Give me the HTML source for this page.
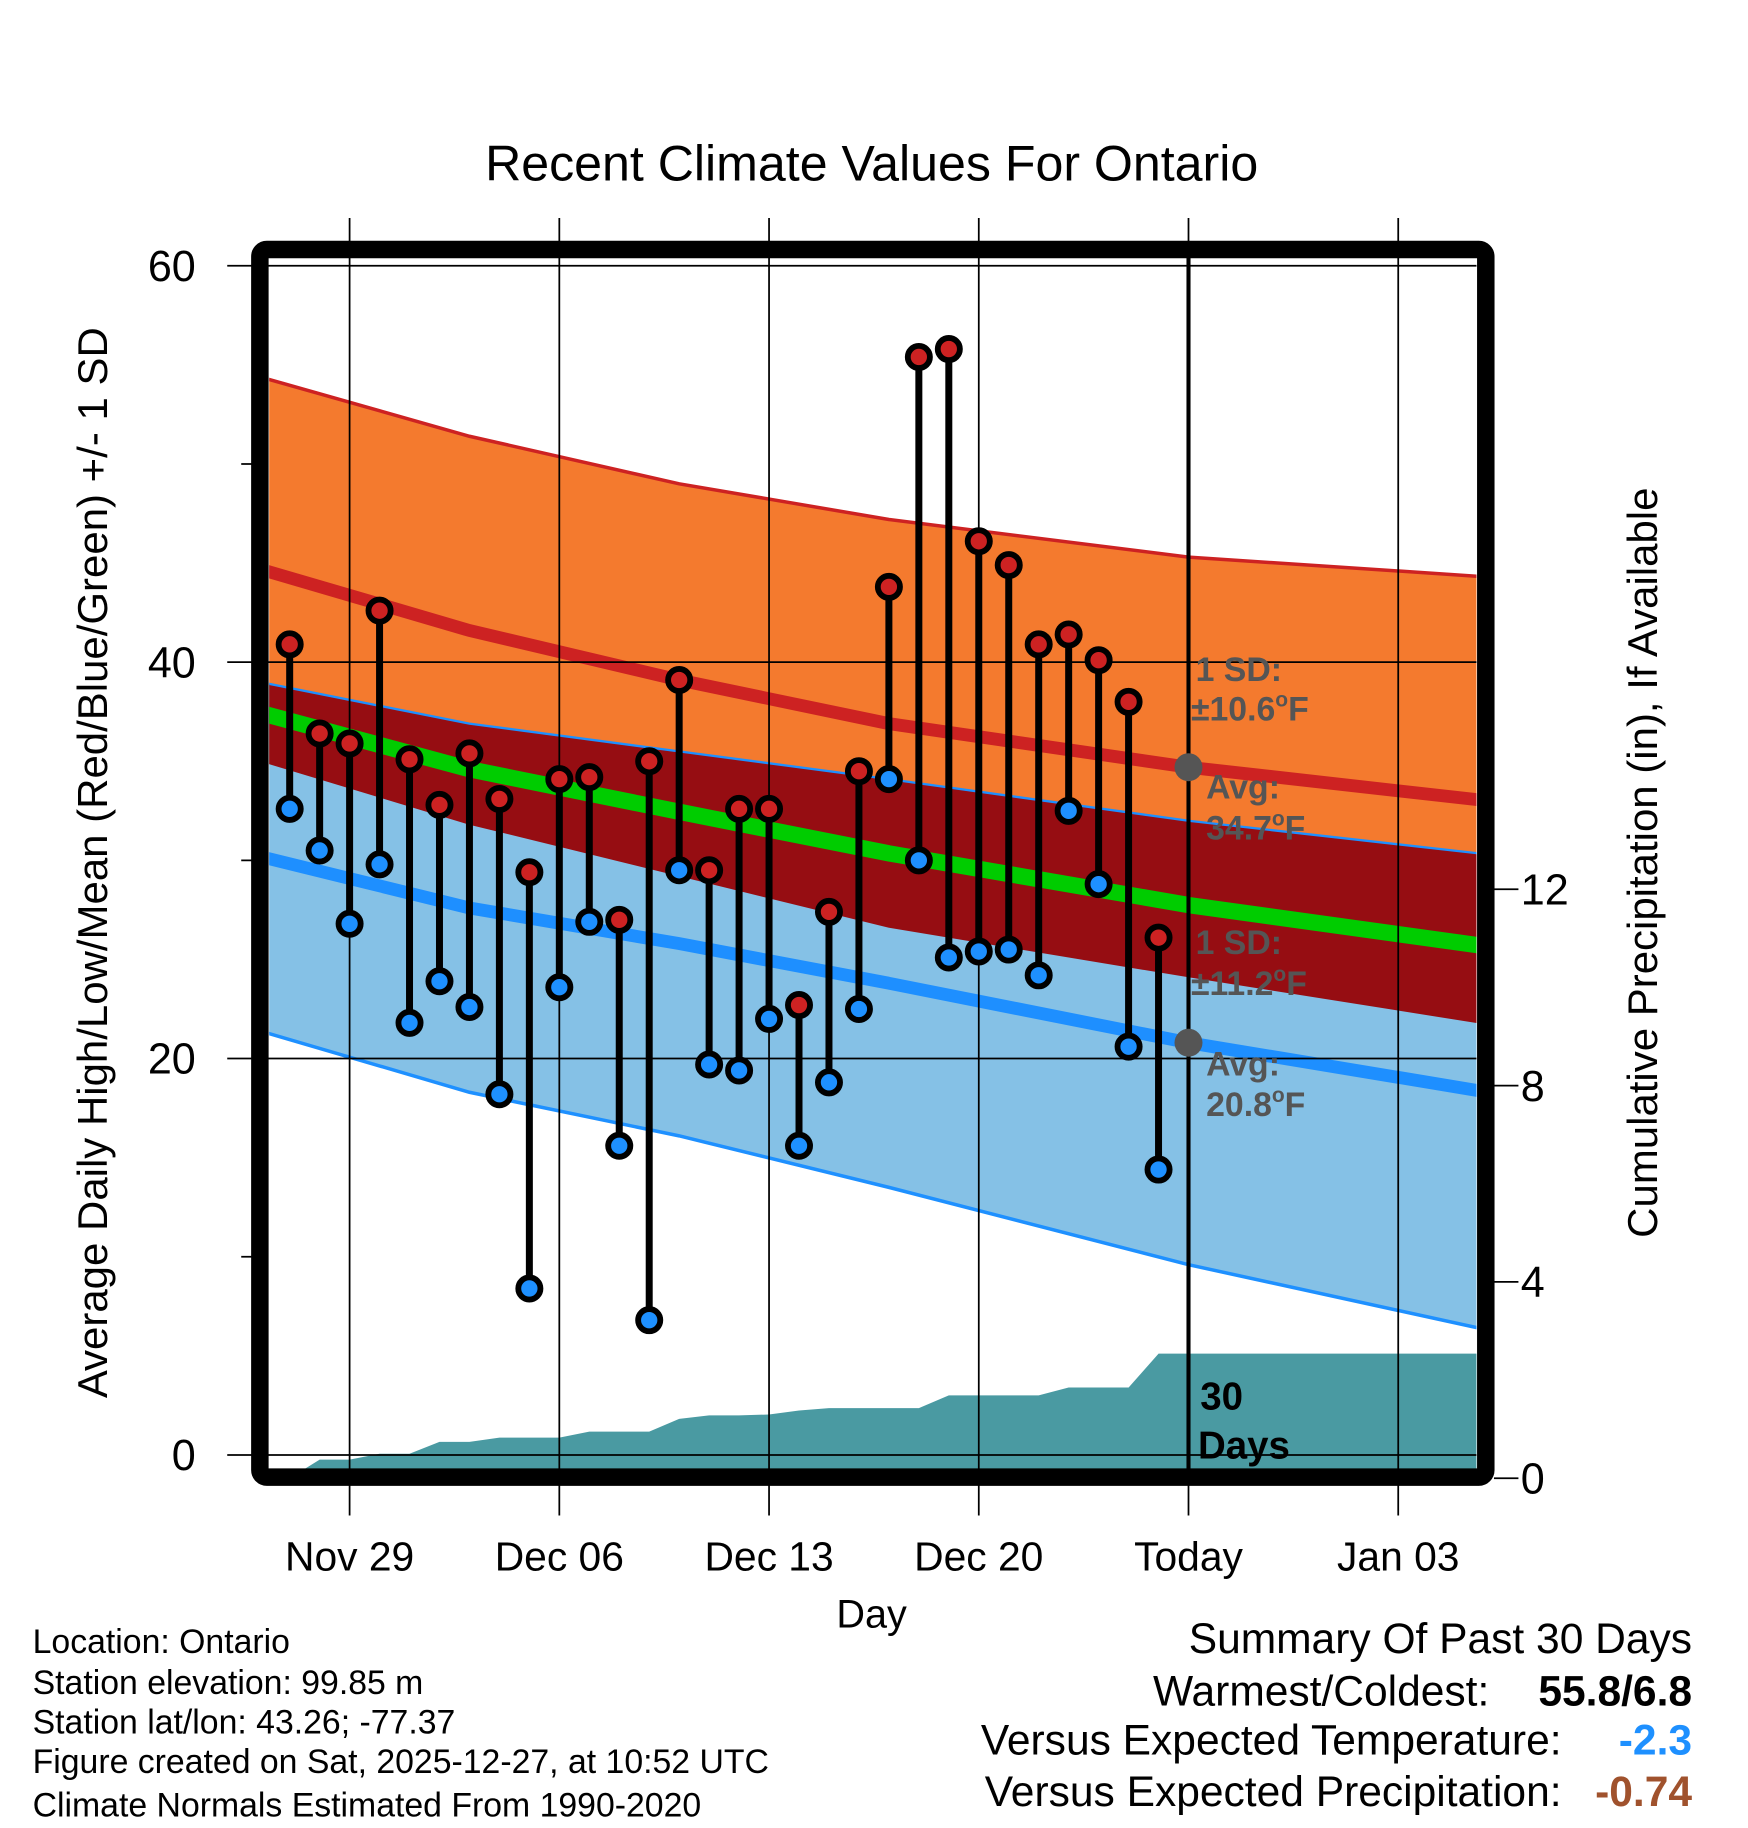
<!DOCTYPE html>
<html><head><meta charset="utf-8"><style>
html,body{margin:0;padding:0;background:#fff}
svg{display:block}
text{font-family:"Liberation Sans",Arial,sans-serif}
</style></head><body>
<svg id="chart" width="1748" height="1828" viewBox="0 0 1500 1568" preserveAspectRatio="none" xmlns="http://www.w3.org/2000/svg">
<defs><clipPath id="plotclip"><rect x="231" y="221" width="1036" height="1039"/></clipPath></defs>
<g id="bands" clip-path="url(#plotclip)"></g>
<g id="grid"></g>
<g id="marks"></g>
<g id="labels"></g>
<rect x="223" y="214" width="1052" height="1053" rx="6" fill="none" stroke="#000" stroke-width="15"/>
<text x="748" y="155" font-size="43" text-anchor="middle">Recent Climate Values For Ontario</text>
<text transform="translate(92,740) rotate(-90)" font-size="36" text-anchor="middle">Average Daily High/Low/Mean (Red/Blue/Green) +/- 1 SD</text>
<text transform="translate(1422,740) rotate(-90)" font-size="36" text-anchor="middle">Cumulative Precipitation (in), If Available</text>
<text x="748" y="1396" font-size="34" text-anchor="middle">Day</text>
<g font-size="29">
<text x="28" y="1418">Location: Ontario</text>
<text x="28" y="1453">Station elevation: 99.85 m</text>
<text x="28" y="1487">Station lat/lon: 43.26; -77.37</text>
<text x="28" y="1521">Figure created on Sat, 2025-12-27, at 10:52 UTC</text>
<text x="28" y="1558">Climate Normals Estimated From 1990-2020</text>
</g>
<g font-size="36.5">
<text x="1452" y="1418" text-anchor="end">Summary Of Past 30 Days</text>
<text x="1278" y="1463" text-anchor="end">Warmest/Coldest:</text>
<text x="1452" y="1463" text-anchor="end" font-weight="bold">55.8/6.8</text>
<text x="1340" y="1505" text-anchor="end">Versus Expected Temperature:</text>
<text x="1452" y="1505" text-anchor="end" font-weight="bold" fill="#1e90ff">-2.3</text>
<text x="1340" y="1549" text-anchor="end">Versus Expected Precipitation:</text>
<text x="1452" y="1549" text-anchor="end" font-weight="bold" fill="#a0522d">-0.74</text>
</g>
</svg>
<script>
// Days relative to Nov 29 (day 0); Today = Dec 27 = day 28
const obsDays = [-2,-1,0,1,2,3,4,5,6,7,8,9,10,11,12,13,14,15,16,17,18,19,20,21,22,23,24,25,26,27].map(d=>d);
const highs = [40.9,36.4,35.9,42.6,35.1,32.8,35.4,33.1,29.4,34.1,34.2,27.0,35.0,39.1,29.5,32.6,32.6,22.7,27.4,34.5,43.8,55.4,55.8,46.1,44.9,40.9,41.4,40.1,38.0,26.1];
const lows  = [32.6,30.5,26.8,29.8,21.8,23.9,22.6,18.2,8.4,23.6,26.9,15.6,6.8,29.5,19.7,19.4,22.0,15.6,18.8,22.5,34.1,30.0,25.1,25.4,25.5,24.2,32.5,28.8,20.6,14.4];
const precip = [0,0.38,0.38,0.5,0.5,0.74,0.74,0.83,0.83,0.83,0.95,0.95,0.95,1.21,1.28,1.28,1.3,1.38,1.43,1.43,1.43,1.43,1.69,1.69,1.69,1.69,1.85,1.85,1.85,2.54];
const normDays = [-3,4,11,18,28,38];
const hiAvg = [44.7,41.6,39.1,36.9,34.7,33.0];
const hiSD  = [9.7,9.8,9.9,10.3,10.6,11.3];
const loAvg = [30.2,27.6,25.8,23.8,20.8,18.3];
const loSD  = [8.8,9.3,9.7,10.3,11.2,12.0];
const xTickDays = [0,7,14,21,28,35];
const xTickLabels = ["Nov 29","Dec 06","Dec 13","Dec 20","Today","Jan 03"];
const yTicks = [0,20,40,60];
const yMinor = [10,30,50];
const y2Ticks = [0,4,8,12];

const obs = obsDays.map((d,i)=>d+1);
const NS="http://www.w3.org/2000/svg";
const X = d => 300 + 25.71*d;
const Y = v => 1248 - 17*v;
const Y2 = p => 1268 - 42.1*p;
const X0 = 231, X1 = 1267;
function mk(tag, attrs, parent){const e=document.createElementNS(NS,tag);for(const k in attrs)e.setAttribute(k,attrs[k]);parent.appendChild(e);return e;}
const bands=document.getElementById('bands'), grid=document.getElementById('grid'), marks=document.getElementById('marks'), labels=document.getElementById('labels');
function pts(arr){return normDays.map((d,i)=>X(d).toFixed(1)+','+Y(arr[i]).toFixed(1));}
const hiTop = hiAvg.map((a,i)=>a+hiSD[i]), hiBot = hiAvg.map((a,i)=>a-hiSD[i]);
const loTop = loAvg.map((a,i)=>a+loSD[i]), loBot = loAvg.map((a,i)=>a-loSD[i]);
const mean = hiAvg.map((a,i)=>(a+loAvg[i])/2);
function band(top,bot,fill,name){
  const p=pts(top).concat(pts(bot).reverse());
  const e=mk('polygon',{points:p.join(' '),fill:fill},bands);
  
  
}
function line(arr,stroke,w,name){
  const e=mk('polyline',{points:pts(arr).join(' '),fill:'none',stroke:stroke,'stroke-width':w},bands);
  
  
}
band(hiTop,hiBot,'#f47a2e','high-sd-band');
band(loTop,loBot,'#85c1e6','low-sd-band');
band(loTop,hiBot,'#960d12','overlap-band');
line(hiTop,'#cd2222',3,'high-plus-sd-line');
line(loTop,'#1e90ff',2,'low-plus-sd-line');
line(loBot,'#1e90ff',3,'low-minus-sd-line');
line(hiAvg,'#cd2222',11,'avg-high-line');
line(loAvg,'#1e8fff',11,'avg-low-line');
line(mean,'#00cc00',14,'avg-mean-line');
let pp=[X(obs[0])+','+Y2(0)];
obs.forEach((d,i)=>pp.push(X(d-1).toFixed(1)+','+Y2(precip[i]).toFixed(1)));
pp.push(X1+','+Y2(precip[precip.length-1]).toFixed(1)); pp.push(X1+','+Y2(0));
const pa=mk('polygon',{points:pp.join(' '),fill:'#4a9aa2'},bands);


xTickDays.forEach((d,i)=>{
  const g=mk('line',{x1:X(d),x2:X(d),y1:187,y2:1300,stroke:'#000','stroke-width':1.5},grid);
  
  
  const t=mk('text',{x:X(d),y:1347,'font-size':35,'text-anchor':'middle'},labels);
  t.textContent=xTickLabels[i];
  
  
});
yTicks.forEach(v=>{
  const g=mk('line',{x1:195,x2:1267,y1:Y(v),y2:Y(v),stroke:'#000','stroke-width':1.5},grid);
  
  
  const t=mk('text',{x:168,y:Y(v)+13,'font-size':37,'text-anchor':'end'},labels);
  t.textContent=v;
  
  
});
yMinor.forEach(v=>{
  const g=mk('line',{x1:207,x2:216,y1:Y(v),y2:Y(v),stroke:'#000','stroke-width':1.5},grid);
  
  
});
y2Ticks.forEach(p=>{
  const g=mk('line',{x1:1282,x2:1303,y1:Y2(p),y2:Y2(p),stroke:'#000','stroke-width':1.5},grid);
  
  
  const t=mk('text',{x:1305,y:Y2(p)+13,'font-size':37},labels);
  t.textContent=p;
  
  
});
const tl=mk('line',{x1:X(28),x2:X(28),y1:214,y2:1267,stroke:'#000','stroke-width':3.5},marks);


obs.forEach((d0,i)=>{
  const d=d0-1;
  const s=mk('line',{x1:X(d),x2:X(d),y1:Y(highs[i]),y2:Y(lows[i]),stroke:'#000','stroke-width':6},marks);
  
  
  const h=mk('circle',{cx:X(d),cy:Y(highs[i]),r:9.5,fill:'#cd2222',stroke:'#000','stroke-width':5},marks);
  
  
  const l=mk('circle',{cx:X(d),cy:Y(lows[i]),r:9.5,fill:'#1e90ff',stroke:'#000','stroke-width':5},marks);
  
  
});
const hiToday=hiAvg[4], loToday=loAvg[4];
[[hiToday,'today-high-avg-dot'],[loToday,'today-low-avg-dot']].forEach(([v,n])=>{
  const c=mk('circle',{cx:X(28),cy:Y(v),r:12,fill:'#555'},marks);
  
  
});
function ann(x,y,txt,name){
  const t=mk('text',{x:x,y:y,'font-size':29,'font-weight':'bold',fill:'#555'},marks);
  t.innerHTML=txt;
  
  
}
ann(1026,Y(hiToday)-74,'1 SD:','high-sd-label');
ann(1022,Y(hiToday)-40,'±'+hiSD[4]+'<tspan font-size="18" dy="-12">o</tspan><tspan dy="12">F</tspan>','high-sd-value');
ann(1035,Y(hiToday)+27,'Avg:','high-avg-label');
ann(1035,Y(hiToday)+62,hiToday+'<tspan font-size="18" dy="-12">o</tspan><tspan dy="12">F</tspan>','high-avg-value');
ann(1026,Y(loToday)-76,'1 SD:','low-sd-label');
ann(1022,Y(loToday)-41,'±'+loSD[4]+'<tspan font-size="18" dy="-12">o</tspan><tspan dy="12">F</tspan>','low-sd-value');
ann(1035,Y(loToday)+28,'Avg:','low-avg-label');
ann(1035,Y(loToday)+63,loToday+'<tspan font-size="18" dy="-12">o</tspan><tspan dy="12">F</tspan>','low-avg-value');
const d1=mk('text',{x:1030,y:1209,'font-size':33,'font-weight':'bold'},marks);
d1.textContent='30';


const d2=mk('text',{x:1028,y:1251,'font-size':33,'font-weight':'bold'},marks);
d2.textContent='Days';


</script>
</body></html>
